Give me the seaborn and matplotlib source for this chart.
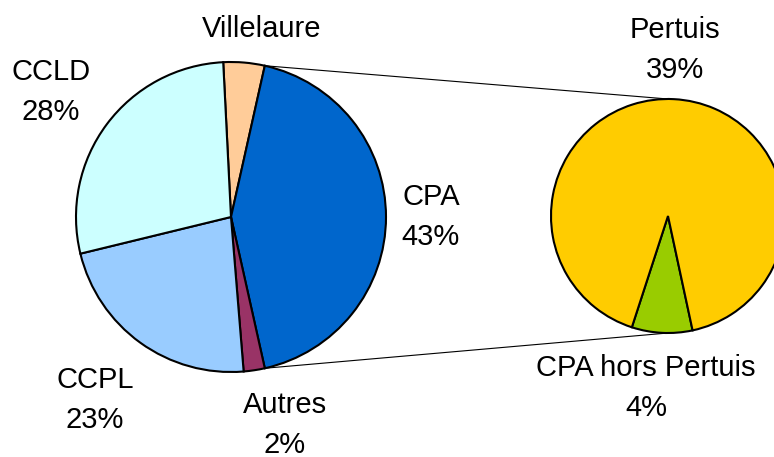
import matplotlib
matplotlib.use("Agg")
import matplotlib.pyplot as plt
import seaborn as sns
import numpy as np

# main pie (share of total), clockwise from the top
main_labels = ["Villelaure", "CPA", "Autres", "CCPL", "CCLD"]
main_values = [4.3, 43.0, 2.2, 22.5, 28.0]
main_colors = ["#FFCC99", "#0066CC", "#993366", "#99CCFF", "#CCFFFF"]

# breakdown of CPA
sub_labels = ["CPA hors Pertuis", "Pertuis"]
sub_values = [3.6, 39.4]
sub_colors = ["#99CC00", "#FFCC00"]

sns.set_theme(style="white")
plt.rcParams["font.family"] = ["Liberation Sans", "DejaVu Sans"]

fig = plt.figure(figsize=(7.74, 4.57), dpi=100)
ax = fig.add_axes([0, 0, 1, 1])

W, H = 774, 457
c1, r1 = (231, H - 217), 155
c2, r2 = (668, H - 216), 117
edge = dict(edgecolor="black", linewidth=1.5)

# rotate so the CPA slice is centered on the right side
total = sum(main_values)
before = sum(main_values[:1]) + main_values[1] / 2
start = before / total * 360

wedges, _ = ax.pie(main_values, colors=main_colors, startangle=start,
                   counterclock=False, center=c1, radius=r1,
                   wedgeprops=edge, frame=True)

# small slice sits just left of the bottom of the second pie
sub_start = 270 - 18
ax.pie(sub_values, colors=sub_colors, startangle=sub_start,
       counterclock=True, center=c2, radius=r2,
       wedgeprops=edge, frame=True)

# connector lines from the CPA slice edges to the second pie
cpa = wedges[1]
for ang, yy in [(cpa.theta2, c2[1] + r2), (cpa.theta1, c2[1] - r2)]:
    x0 = c1[0] + r1 * np.cos(np.radians(ang))
    y0 = c1[1] + r1 * np.sin(np.radians(ang))
    ax.plot([x0, c2[0]], [y0, yy], color="black", lw=0.8, zorder=0)

ax.set_xlim(0, W)
ax.set_ylim(0, H)
ax.set_aspect("equal")
ax.axis("off")

fs = 21
txt = dict(fontsize=fs, ha="center", va="center", linespacing=1.55, color="black")
ax.text(262, H - 29, "Villelaure", **txt)
ax.text(51, H - 92, "CCLD\n28%", **txt)
ax.text(431, H - 217, "CPA\n43%", **txt)
ax.text(95, H - 400, "CCPL\n23%", **txt)
ax.text(285, H - 425, "Autres\n2%", **txt)
ax.text(675, H - 50, "Pertuis\n39%", **txt)
ax.text(646, H - 388, "CPA hors Pertuis\n4%", **txt)

fig.savefig("out.png", dpi=100)
